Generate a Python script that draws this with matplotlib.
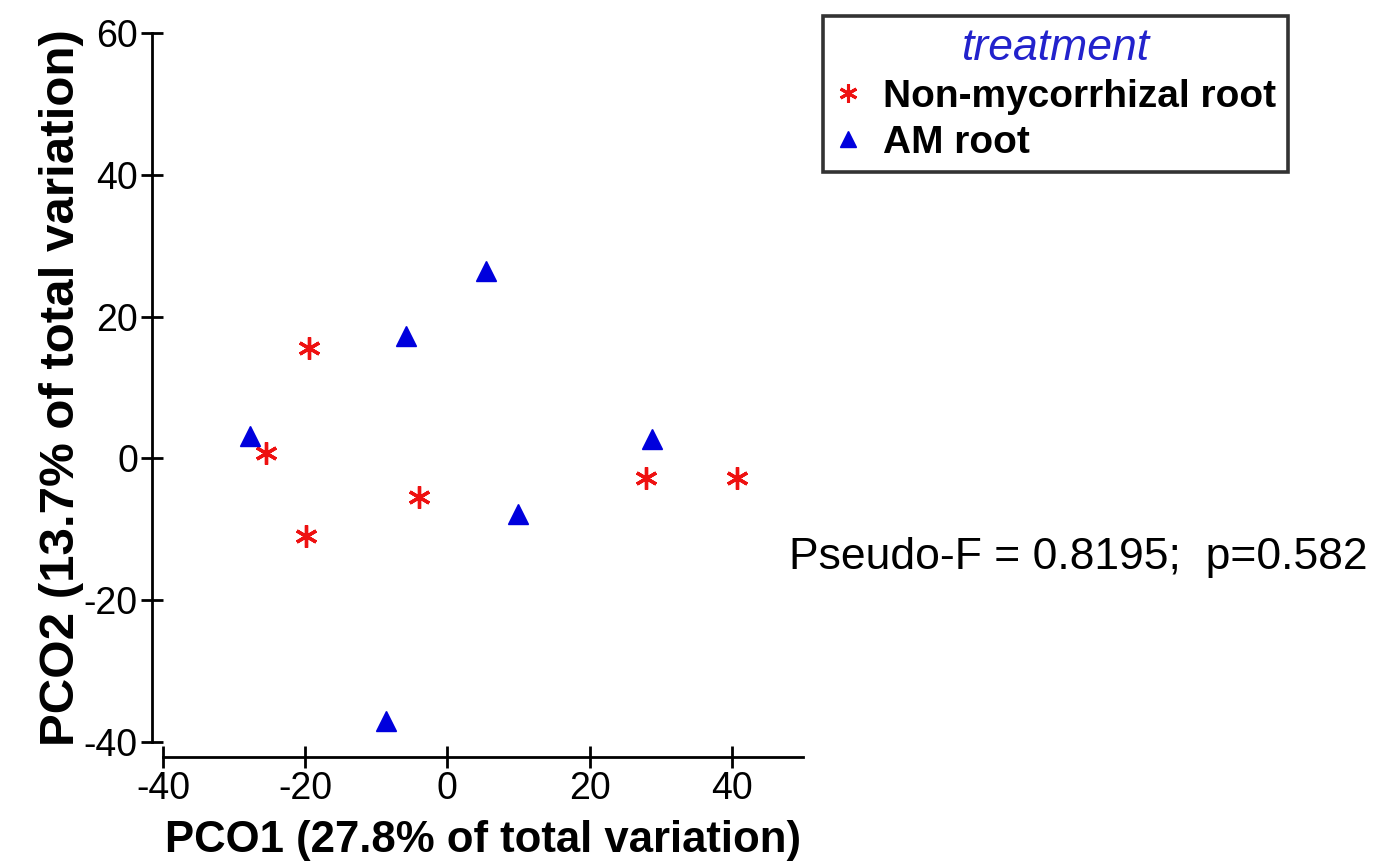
import matplotlib
matplotlib.use("Agg")
import matplotlib.pyplot as plt
from matplotlib.lines import Line2D

plt.rcParams['font.family'] = ['Liberation Sans', 'DejaVu Sans']
plt.rcParams['axes.unicode_minus'] = False

# PCO scores
nonmyc_x = [-19.5, -25.5, -19.9, -4.0, 27.9, 40.7]
nonmyc_y = [15.5, 0.7, -10.9, -5.4, -2.8, -2.7]
am_x = [-27.8, -5.8, 5.4, 9.9, 28.8, -8.6]
am_y = [3.2, 17.2, 26.4, -7.8, 2.7, -37.0]

x_ticks = [-40, -20, 0, 20, 40]
y_ticks = [-40, -20, 0, 20, 40, 60]
group_names = ["Non-mycorrhizal root", "AM root"]
stat_text = "Pseudo-F = 0.8195;  p=0.582"

fig = plt.figure(figsize=(13.74, 8.65), dpi=100)
ax = fig.add_axes([0.1186, 0.1422, 0.4658, 0.8197])

ax.plot(nonmyc_x, nonmyc_y, linestyle='none', marker=(6, 2, 0), markersize=16,
        markeredgecolor='#ee1111', markeredgewidth=2.4, label=group_names[0])
ax.plot(am_x, am_y, linestyle='none', marker='^', markersize=14,
        color='#0000dd', label=group_names[1])

ax.set_xlim(-40, 50)
ax.set_ylim(-40, 60)
ax.set_xticks(x_ticks)
ax.set_yticks(y_ticks)

for s in ['top', 'right']:
    ax.spines[s].set_visible(False)
ax.spines['left'].set_position(('outward', 8))
ax.spines['bottom'].set_position(('outward', 11))
ax.spines['left'].set_bounds(-40, 60)
ax.spines['bottom'].set_bounds(-40, 50)
for s in ['left', 'bottom']:
    ax.spines[s].set_linewidth(2)
ax.tick_params(direction='inout', length=16, width=2, labelsize=27, pad=2)

ax.set_xlabel("PCO1 (27.8% of total variation)", fontsize=31.5, fontweight='bold', labelpad=9)
ax.set_ylabel("PCO2 (13.7% of total variation)", fontsize=35.5, fontweight='bold', labelpad=0)

handles = [
    Line2D([], [], linestyle='none', marker=(6, 2, 0), markersize=13,
           markeredgecolor='#ee1111', markeredgewidth=2.2),
    Line2D([], [], linestyle='none', marker='^', markersize=11, color='#0000dd'),
]
leg = fig.legend(handles, group_names, loc='upper left', bbox_to_anchor=(0.599, 0.981),
                 title="treatment", fontsize=28, frameon=True, fancybox=False,
                 edgecolor='black', handlelength=0.7, handletextpad=0.55,
                 borderpad=0.3, labelspacing=0.25, borderaxespad=0)
leg.get_frame().set_linewidth(2.6)
leg.get_title().set_fontsize(32)
leg.get_title().set_style('italic')
leg.get_title().set_color('#2222cc')
for t in leg.get_texts():
    t.set_fontweight('bold')

fig.text(0.574, 0.356, stat_text, fontsize=32, va='center', ha='left')

fig.savefig("out.png", dpi=100)
